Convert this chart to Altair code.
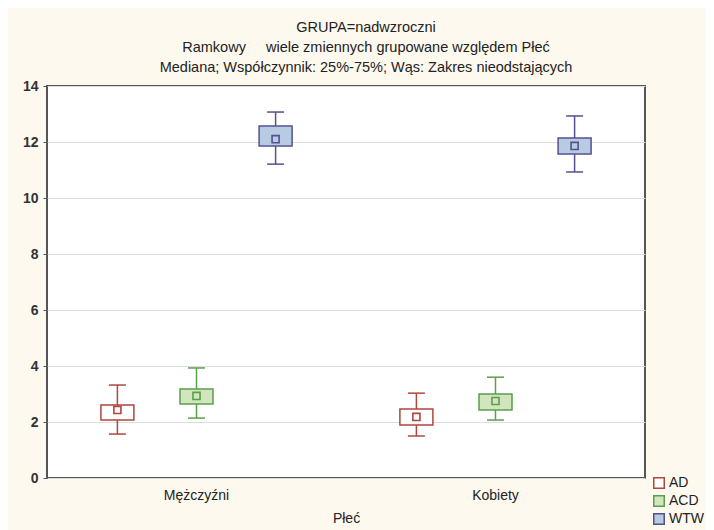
import altair as alt
import pandas as pd

groups = ["Mężczyźni", "Kobiety"]
series = ["AD", "ACD", "WTW"]

# values per (group, series) in order: Mężczyźni AD, ACD, WTW, Kobiety AD, ACD, WTW
lower = [1.57, 2.14, 11.21, 1.50, 2.07, 10.93]
q1 = [2.07, 2.64, 11.86, 1.89, 2.43, 11.57]
median = [2.43, 2.93, 12.10, 2.18, 2.75, 11.86]
q3 = [2.61, 3.18, 12.57, 2.46, 3.00, 12.14]
upper = [3.32, 3.93, 13.07, 3.03, 3.60, 12.93]

dark = ["#b0463c", "#5a9f4a", "#55508e"]
light = ["#ffffff", "#d3e5bd", "#b7cbe3"]

rows = []
i = 0
for g in groups:
    for s in series:
        rows.append(dict(plec=g, seria=s, lower=lower[i], q1=q1[i], median=median[i], q3=q3[i], upper=upper[i]))
        i += 1
df = pd.DataFrame(rows)

FONT = "Liberation Sans"

x = alt.X("plec:N", sort=groups, title="Płeć",
          scale=alt.Scale(paddingInner=0, paddingOuter=0),
          axis=alt.Axis(labelAngle=0, ticks=False, domain=False, grid=False,
                        labelFontSize=14, labelColor="#222", labelPadding=10,
                        titleFontSize=14, titleFontWeight="normal", titleColor="#222",
                        titlePadding=9, labelFont=FONT, titleFont=FONT))
xo = alt.XOffset("seria:N", sort=series,
                 scale=alt.Scale(paddingInner=0, paddingOuter=0.39))
yscale = alt.Scale(domain=[0, 14], nice=False)

yaxis = alt.Axis(values=[0, 2, 4, 6, 8, 10, 12, 14], title=None, domain=False,
                 tickSize=4, tickColor="#555", gridColor="#dddddd", gridWidth=1,
                 labelFontSize=14, labelFontWeight="bold", labelColor="#333",
                 labelFont=FONT, labelPadding=5)

leg = alt.Legend(title=None, orient="none", legendX=605, legendY=390, direction="vertical",
                 symbolType="square", symbolSize=110, symbolStrokeWidth=1.5,
                 labelFontSize=14, labelFont=FONT, labelColor="#222", rowPadding=0,
                 labelOffset=3, labelLimit=60)

fill_enc = alt.Fill("seria:N", sort=series, scale=alt.Scale(domain=series, range=light), legend=leg)
stroke_enc = alt.Stroke("seria:N", sort=series, scale=alt.Scale(domain=series, range=dark), legend=leg)

base = alt.Chart(df)

box = base.mark_bar(size=33, strokeWidth=1.5, opacity=1).encode(
    x=x, xOffset=xo,
    y=alt.Y("q1:Q", scale=yscale, axis=yaxis), y2="q3:Q",
    fill=fill_enc, stroke=stroke_enc)

wlow = base.mark_rule(strokeWidth=1.5).encode(
    x=x, xOffset=xo, y=alt.Y("lower:Q", scale=yscale), y2="q1:Q", stroke=stroke_enc)
whigh = base.mark_rule(strokeWidth=1.5).encode(
    x=x, xOffset=xo, y=alt.Y("q3:Q", scale=yscale), y2="upper:Q", stroke=stroke_enc)

cap_shape = "M-1,0L1,0"
caps_lo = base.mark_point(shape=cap_shape, size=289, strokeWidth=1.5, filled=False, opacity=1).encode(
    x=x, xOffset=xo, y=alt.Y("lower:Q", scale=yscale), stroke=stroke_enc)
caps_hi = base.mark_point(shape=cap_shape, size=289, strokeWidth=1.5, filled=False, opacity=1).encode(
    x=x, xOffset=xo, y=alt.Y("upper:Q", scale=yscale), stroke=stroke_enc)

med = base.mark_point(shape="square", size=50, strokeWidth=1.6, filled=False, opacity=1).encode(
    x=x, xOffset=xo, y=alt.Y("median:Q", scale=yscale),
    stroke=stroke_enc, fill=fill_enc)

sp = "\u00a0"
chart = alt.layer(box, wlow, whigh, caps_lo, caps_hi, med).properties(
    width=598, height=392,
    autosize=alt.AutoSizeParams(type="none"),
    padding={"left": 39, "top": 78, "right": 61, "bottom": 52},
    background="#fef9ef",
    title=alt.TitleParams(
        text=["GRUPA=nadwzroczni",
              "Ramkowy" + sp * 5 + "wiele zmiennych grupowane względem Płeć",
              "Mediana; Współczynnik: 25%-75%; Wąs: Zakres nieodstających"],
        fontSize=14.5, font=FONT, fontWeight="normal", color="#222",
        anchor="middle", dx=20, lineHeight=20, offset=4),
).configure_view(
    fill="white", stroke="#555555", strokeWidth=2
)

chart.save("out.html", embed_options={"renderer": "svg", "actions": False})
